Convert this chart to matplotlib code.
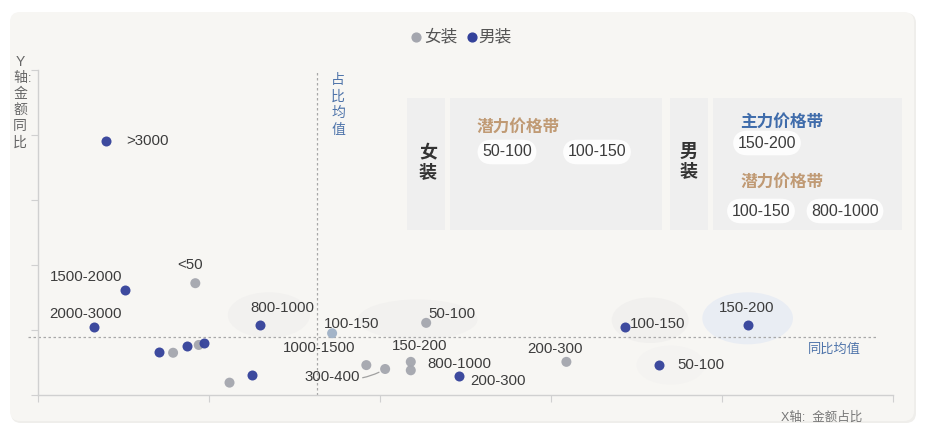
import matplotlib
matplotlib.use("Agg")
import matplotlib.pyplot as plt
from matplotlib.patches import FancyBboxPatch, Ellipse, Rectangle

plt.rcParams["font.family"] = ["Liberation Sans", "Noto Sans CJK SC", "DejaVu Sans"]

# X: 金额占比, Y: 金额同比 (axis units, 5 ticks each way)
men_bands = [">3000", "1500-2000", "2000-3000", "800-1000", "", "", "",
             "", "200-300", "100-150", "50-100", "150-200"]
men_x = [0.40, 0.51, 0.33, 1.30, 0.71, 0.87, 0.97, 1.25, 2.46, 3.43, 3.63, 4.15]
men_y = [3.91, 1.62, 1.05, 1.08, 0.66, 0.75, 0.80, 0.31, 0.29, 1.05, 0.46, 1.08]

women_bands = ["<50", "", "", "", "100-150", "1000-1500", "300-400",
               "150-200", "800-1000", "50-100", "200-300"]
women_x = [0.92, 0.79, 0.94, 1.12, 1.72, 1.92, 2.03, 2.18, 2.18, 2.27, 3.09]
women_y = [1.72, 0.65, 0.77, 0.19, 0.95, 0.46, 0.40, 0.51, 0.38, 1.11, 0.51]

share_mean = 1.63   # 占比均值
growth_mean = 0.89  # 同比均值

# label offsets in pixels (dx, dy, ha)
men_offsets = [(20, 0, "left"), (-39, 13, "center"), (-9, 13, "center"),
               (22, 17, "center"), None, None, None, None,
               (12, -5, "left"), (5, 3, "left"), (19, 0, "left"), (-1, 17, "center")]
women_offsets = [(-5, 18, "center"), None, None, None, (20, 9, "center"),
                 (-47, 17, "center"), (-53, -8, "center"), (9, 16, "center"),
                 (17, 6, "left"), (2, 9, "left"), (-11, 13, "center")]

MEN = "#33419a"
WOMEN = "#a4a6ae"
LABEL = "#3c3c3c"
BLUE_TXT = "#4f74aa"
TAN = "#c09a74"

W, H = 925, 429
fig = plt.figure(figsize=(W / 100, H / 100), dpi=100)
fig.patch.set_facecolor("white")

# background layer in pixel coordinates
bg = fig.add_axes([0, 0, 1, 1], zorder=0)
bg.set_xlim(0, W)
bg.set_ylim(H, 0)
bg.axis("off")
bg.add_patch(FancyBboxPatch((11, 13), 905, 410, boxstyle="round,pad=0,rounding_size=10",
                            fc="#efeeeb", ec="none"))
bg.add_patch(FancyBboxPatch((10, 12), 904, 409, boxstyle="round,pad=0,rounding_size=10",
                            fc="#f7f6f3", ec="none"))

# legend
bg.scatter([416], [37], s=40, color=WOMEN, zorder=3)
bg.text(424, 37, "女装", fontsize=12, color="#555555", va="center", ha="left")
bg.scatter([472], [37], s=40, color=MEN, zorder=3)
bg.text(478, 37, "男装", fontsize=12, color="#555555", va="center", ha="left")

# price band summary boxes
for x0, x1 in [(407, 445), (450, 662), (670, 708), (713, 902)]:
    bg.add_patch(Rectangle((x0, 98), x1 - x0, 132, fc="#efefef", ec="none"))
bg.text(428, 163, "女\n装", fontsize=13, fontweight="bold", color="#333333",
        ha="center", va="center", linespacing=1.2)
bg.text(689, 162, "男\n装", fontsize=13, fontweight="bold", color="#333333",
        ha="center", va="center", linespacing=1.2)

pill = dict(boxstyle="round,pad=0.3,rounding_size=0.9", fc="#fdfdfd", ec="none")
bg.text(518, 127, "潜力价格带", fontsize=12, fontweight="bold", color=TAN, ha="center", va="center")
bg.text(507, 152, "50-100", fontsize=11.5, color=LABEL, ha="center", va="center", bbox=pill)
bg.text(597, 152, "100-150", fontsize=11.5, color=LABEL, ha="center", va="center", bbox=pill)
bg.text(782, 122, "主力价格带", fontsize=12, fontweight="bold", color="#3f6cab", ha="center", va="center")
bg.text(767, 143, "150-200", fontsize=11.5, color=LABEL, ha="center", va="center", bbox=pill)
bg.text(782, 182, "潜力价格带", fontsize=12, fontweight="bold", color=TAN, ha="center", va="center")
bg.text(761, 211, "100-150", fontsize=11.5, color=LABEL, ha="center", va="center", bbox=pill)
bg.text(845, 211, "800-1000", fontsize=11.5, color=LABEL, ha="center", va="center", bbox=pill)

# axis captions
bg.text(20, 102, "Y\n轴\n金\n额\n同\n比", fontsize=10, color="#666666",
        ha="center", va="center", linespacing=1.2)
bg.text(28, 79, ":", fontsize=9, color="#666666", ha="left", va="center")
bg.text(338, 105, "占\n比\n均\n值", fontsize=10, color=BLUE_TXT,
        ha="center", va="center", linespacing=1.25)
bg.text(834, 350, "同比均值", fontsize=9.5, color=BLUE_TXT, ha="center", va="center")
bg.text(822, 418, "X轴:  金额占比", fontsize=9, color="#777777", ha="center", va="center")

# scatter axes
ax = fig.add_axes([38 / W, 1 - 395 / H, 855 / W, 325 / H], zorder=1)
ax.patch.set_visible(False)
ax.set_xlim(0, 5)
ax.set_ylim(0, 5)
for side in ("top", "right"):
    ax.spines[side].set_visible(False)
for side in ("left", "bottom"):
    ax.spines[side].set_color("#d0d0d0")
    ax.spines[side].set_linewidth(1.0)
ax.set_xticks(range(6))
ax.set_yticks(range(6))
ax.tick_params(length=5, color="#d0d0d0", labelbottom=False, labelleft=False)

# soft highlight halos around key bands
halos = [(men_x[11], men_y[11] + 0.1, 0.53, 0.80, "#e9edf3"),
         (men_x[9] + 0.15, men_y[9] + 0.1, 0.45, 0.70, "#f1f0ee"),
         (men_x[10] + 0.07, men_y[10], 0.40, 0.60, "#f4f3f1"),
         (women_x[9] - 0.05, women_y[9] + 0.05, 0.70, 0.62, "#f2f1ef"),
         (men_x[3] + 0.05, men_y[3] + 0.15, 0.48, 0.70, "#f2f1ef")]
for cx, cy, w, h, c in halos:
    ax.add_patch(Ellipse((cx, cy), w, h, fc=c, ec="none", zorder=0))

# mean reference lines
ax.axvline(share_mean, color="#a8a8a8", lw=0.9, ls=(0, (2, 2)), zorder=1)
ax.plot([-0.06, 4.9], [growth_mean, growth_mean], color="#a8a8a8", lw=0.9,
        ls=(0, (2, 2)), clip_on=False, zorder=1)

women_colors = [WOMEN] * len(women_x)
women_colors[4] = "#9fb1c6"
ax.scatter(women_x, women_y, s=52, color=women_colors, alpha=0.95, lw=0, zorder=3)
ax.scatter(men_x, men_y, s=52, color=MEN, alpha=0.95, lw=0, zorder=4)

for xs, ys, names, offs in [(men_x, men_y, men_bands, men_offsets),
                            (women_x, women_y, women_bands, women_offsets)]:
    for x, y, name, off in zip(xs, ys, names, offs):
        if off is None:
            continue
        dx, dy, ha = off
        kw = {}
        if name == "300-400":
            kw["arrowprops"] = dict(arrowstyle="-", color="#a0a0a0", lw=0.9,
                                    shrinkA=0, shrinkB=5,
                                    connectionstyle="arc3,rad=0.2")
        ax.annotate(name, (x, y), xytext=(dx, dy), textcoords="offset pixels",
                    fontsize=10.8, color=LABEL, ha=ha, va="center", zorder=5, **kw)

fig.savefig("out.png", dpi=100)
